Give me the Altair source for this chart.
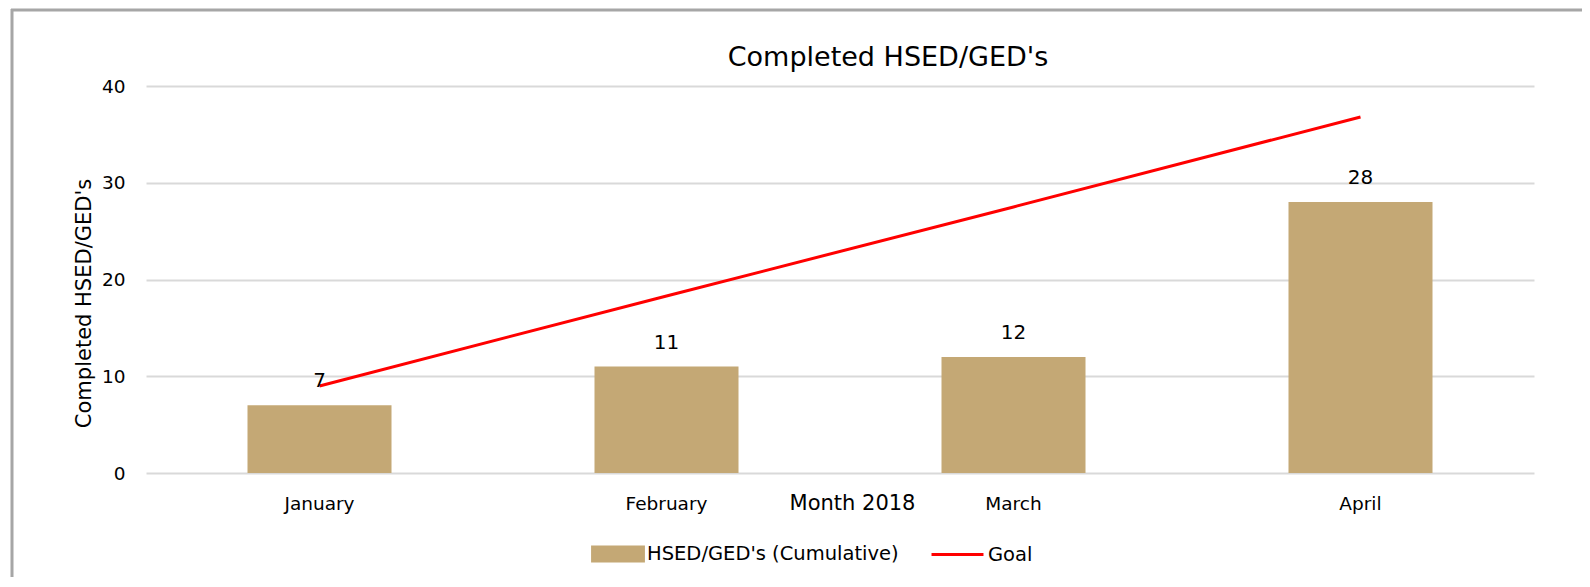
import altair as alt
import pandas as pd

months = ["January", "February", "March", "April"]
completed = [7, 11, 12, 28]
goal = [9.0, 18.3, 27.5, 36.8]
bar_series = "HSED/GED's (Cumulative)"
line_series = "Goal"
chart_title = "Completed HSED/GED's"
x_title = "Month 2018"
y_title = "Completed HSED/GED's"

df = pd.DataFrame({
    "month": months,
    "completed": completed,
    "goal": goal,
    "bar_series": [bar_series] * len(months),
    "line_series": [line_series] * len(months),
})

FONT = "DejaVu Sans"
BAR_COLOR = "#c4a875"

x_enc = alt.X(
    "month:N",
    sort=months,
    scale=alt.Scale(paddingInner=0.585, paddingOuter=0.2925),
    axis=alt.Axis(
        title=x_title,
        labelAngle=0,
        labelFont=FONT,
        labelFontSize=18.5,
        labelColor="#000000",
        labelBaseline="middle",
        labelPadding=30,
        ticks=False,
        tickSize=0,
        domain=False,
        grid=False,
        titleFont=FONT,
        titleFontSize=21,
        titleFontWeight="normal",
        titleColor="#000000",
        titleX=706,
        titleY=30,
        titleAlign="center",
        titleBaseline="middle",
    ),
)

y_scale = alt.Scale(domain=[0, 40], nice=False)
y_axis = alt.Axis(
    title=y_title,
    values=[0, 10, 20, 30, 40],
    labelFont=FONT,
    labelFontSize=18.5,
    labelColor="#000000",
    labelPadding=21,
    ticks=False,
    tickSize=0,
    domain=False,
    grid=True,
    gridColor="#d9d9d9",
    gridWidth=2,
    titleFont=FONT,
    titleFontSize=21,
    titleFontWeight="normal",
    titleColor="#000000",
    titleAngle=270,
    titleX=-62,
    titleY=217,
    titleAlign="center",
    titleBaseline="middle",
)

base = alt.Chart(df)

bars = base.mark_bar().encode(
    x=x_enc,
    y=alt.Y("completed:Q", scale=y_scale, axis=y_axis),
    color=alt.Color(
        "bar_series:N",
        scale=alt.Scale(domain=[bar_series], range=[BAR_COLOR]),
        legend=alt.Legend(
            title=None,
            orient="none",
            legendX=445,
            legendY=441,
            symbolType="M-1,-0.32L1,-0.32L1,0.32L-1,0.32Z",
            symbolSize=2900,
            symbolStrokeWidth=0,
            symbolOpacity=1,
            labelFont=FONT,
            labelFontSize=19.5,
            labelColor="#000000",
            labelOffset=2,
            labelLimit=600,
        ),
    ),
)

labels = base.mark_text(
    font=FONT, fontSize=20, color="#000000", baseline="middle", dy=-24
).encode(
    x=alt.X("month:N", sort=months),
    y=alt.Y("completed:Q", scale=y_scale),
    text=alt.Text("completed:Q"),
)

line = base.mark_line(strokeWidth=3).encode(
    x=alt.X("month:N", sort=months),
    y=alt.Y("goal:Q", scale=y_scale),
    stroke=alt.Stroke(
        "line_series:N",
        scale=alt.Scale(domain=[line_series], range=["#ff0000"]),
        legend=alt.Legend(
            title=None,
            orient="none",
            legendX=784,
            legendY=441,
            symbolType="stroke",
            symbolSize=2700,
            symbolStrokeWidth=3,
            labelFont=FONT,
            labelFontSize=19.5,
            labelColor="#000000",
            labelOffset=3,
            labelLimit=600,
        ),
    ),
)

one = pd.DataFrame({"t": [chart_title]})

title_text = alt.Chart(one).mark_text(
    font=FONT, fontSize=27, color="#000000", align="center", baseline="alphabetic"
).encode(x=alt.value(742), y=alt.value(-20), text="t:N")

# decorative frame (top and left edges, as in the reference)
frame_top = alt.Chart(one).mark_rule(
    color="#a6a6a6", strokeWidth=3
).encode(x=alt.value(-135), x2=alt.value(1440), y=alt.value(-76))
frame_left = alt.Chart(one).mark_rule(
    color="#a6a6a6", strokeWidth=3
).encode(x=alt.value(-134), y=alt.value(-77), y2=alt.value(520))

chart = alt.layer(bars, line, labels, title_text, frame_top, frame_left).resolve_scale(
    color="independent", stroke="independent"
).properties(
    width=1388,
    height=387,
    autosize=alt.AutoSizeParams(type="none"),
    padding={"left": 138, "top": 78, "right": 48, "bottom": 104},
    background="#ffffff",
).configure_view(strokeWidth=0, stroke=None)

chart.save("out.html", embed_options={"renderer": "svg", "actions": False})
